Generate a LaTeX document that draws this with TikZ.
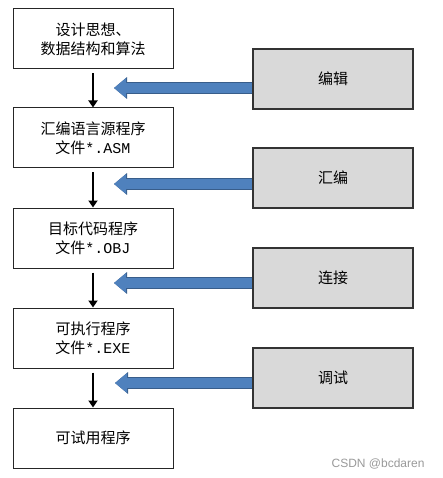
\documentclass[tikz,border=0pt]{standalone}
\usepackage{fontspec}
\setmainfont{Noto Sans CJK SC}
\setmonofont{Liberation Mono}
\newfontfamily\wmfont{Liberation Sans}
\usepackage{xcolor}
\usepackage{tikz}
\usetikzlibrary{arrows.meta}
\definecolor{boxgray}{HTML}{D9D9D9}
\definecolor{arrowblue}{HTML}{4F81BD}
\definecolor{arrowedge}{HTML}{385D8A}

\begin{document}
\begin{tikzpicture}[x=1pt,y=-1pt,%
% common options for the program files:
filebox/.style = {draw=black!85, line width=1pt, fill=white, align=center,
            minimum width=160pt, minimum height=60pt, inner sep=0,
            font=\fontsize{15}{19}\selectfont},
% common options for the steps:
stepbox/.style = {draw=black!80, line width=1.3pt, fill=boxgray, align=center,
            minimum width=160pt, minimum height=60pt, inner sep=0,
            font=\fontsize{15}{19}\selectfont},
% arrows
down/.style = {line width=2.4pt, -{Triangle[length=7pt,width=9pt]}},
feed/.style = {line width=10pt, arrowblue, -{Triangle[length=12pt,width=19pt]},
            preaction={draw=arrowedge, line width=11.5pt, -{Triangle[length=13pt,width=21pt]}}}]
\useasboundingbox (0,0) rectangle (442,478);
\node[filebox] (F1) at (93,39) {设计思想、\\数据结构和算法};
\node[filebox] (F2) at (93,138) {汇编语言源程序\\文件\texttt{*.ASM}};
\node[filebox] (F3) at (93,238) {目标代码程序\\文件\texttt{*.OBJ}};
\node[filebox] (F4) at (93,338) {可执行程序\\文件\texttt{*.EXE}};
\node[filebox] (F5) at (93,438) {可试用程序};
\node[stepbox] (S1) at (333,79) {编辑};
\node[stepbox] (S2) at (333,178) {汇编};
\node[stepbox] (S3) at (333,278) {连接};
\node[stepbox] (S4) at (333,378) {调试};
\coordinate (T1) at (114,88);
\coordinate (T2) at (114,184);
\coordinate (T3) at (114,283);
\coordinate (T4) at (115,383);
\draw[down] ([yshift=-4pt]F1.south) to (F2.north);
\draw[down] ([yshift=-4pt]F2.south) to (F3.north);
\draw[down] ([yshift=-4pt]F3.south) to (F4.north);
\draw[down] ([yshift=-4pt]F4.south) to (F5.north);
\draw[feed] (S1.west |- T1) to (T1);
\draw[feed] (S2.west |- T2) to (T2);
\draw[feed] (S3.west |- T3) to (T3);
\draw[feed] (S4.west |- T4) to (T4);
\node[text=black!40, font=\wmfont\fontsize{12}{14}\selectfont, anchor=east] (wm) at (428,464) {CSDN @bcdaren};
\end{tikzpicture}
\end{document}
